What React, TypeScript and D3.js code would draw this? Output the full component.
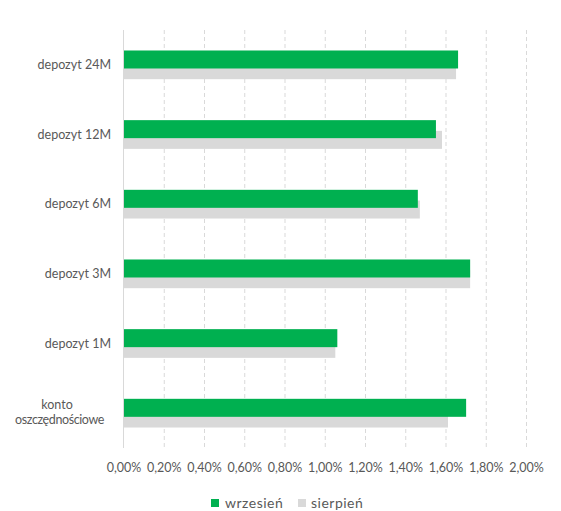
import React from "react";
import * as d3 from "d3";

const categories = ["depozyt 24M", "depozyt 12M", "depozyt 6M", "depozyt 3M", "depozyt 1M", "konto oszczędnościowe"];
const wrzesien = [1.66, 1.55, 1.46, 1.72, 1.06, 1.70];
const sierpien = [1.65, 1.58, 1.47, 1.72, 1.05, 1.61];
const ticks = [0, 0.2, 0.4, 0.6, 0.8, 1.0, 1.2, 1.4, 1.6, 1.8, 2.0];
const seriesNames = ["wrzesień", "sierpień"];

const W = 561, H = 511;
const left = 124, right = 526.5, top = 30, bottom = 448;
const GREEN = "#00b050", GRAY = "#d9d9d9", TEXT = "#595959";
const FONT = "Lato, 'Open Sans', sans-serif";

export default function App() {
  const x = d3.scaleLinear().domain([0, 2]).range([left, right]);
  const y = d3.scaleBand().domain(categories).range([top, bottom]);
  const barH = 18, offset = 10.7;
  const fmt = (v: number) => v.toFixed(2).replace(".", ",") + "%";
  return (
    <svg width={W} height={H} style={{ position: "absolute", left: 0, top: 0 }} fontFamily={FONT}>
      {ticks.slice(1).map((t) => (
        <line key={t} x1={x(t)} x2={x(t)} y1={top} y2={bottom} stroke={GRAY} strokeWidth={1} strokeDasharray="4,3" />
      ))}
      {categories.map((c, i) => {
        const cy = (y(c) as number) + y.bandwidth() / 2;
        const pairTop = cy - (barH + offset) / 2;
        return (
          <g key={c}>
            <rect x={x(0)} y={pairTop + offset} width={x(sierpien[i]) - x(0)} height={barH} fill={GRAY} />
            <rect x={x(0)} y={pairTop} width={x(wrzesien[i]) - x(0)} height={barH} fill={GREEN} />
          </g>
        );
      })}
      <line x1={left - 0.5} x2={left - 0.5} y1={top} y2={bottom} stroke={GRAY} strokeWidth={1} />
      {categories.map((c) => {
        const cy = (y(c) as number) + y.bandwidth() / 2;
        if (c === "konto oszczędnościowe") {
          return (
            <g key={c} fontSize={12.5} fill={TEXT}>
              <text x={57} y={cy - 4} textAnchor="middle">konto</text>
              <text x={104} y={cy + 11} textAnchor="end" letterSpacing={-0.4}>oszczędnościowe</text>
            </g>
          );
        }
        return (
          <text key={c} x={111} y={cy + 4} textAnchor="end" fontSize={12.5} fill={TEXT}>{c}</text>
        );
      })}
      {ticks.map((t) => (
        <text key={t} x={x(t)} y={472} textAnchor="middle" fontSize={12.5} fill={TEXT}>{fmt(t)}</text>
      ))}
      <g fontSize={14} fill={TEXT} letterSpacing={0.5}>
        <rect x={211} y={499} width={8} height={8} fill={GREEN} />
        <text x={225} y={508}>{seriesNames[0]}</text>
        <rect x={298} y={499} width={8} height={8} fill={GRAY} />
        <text x={311} y={508}>{seriesNames[1]}</text>
      </g>
    </svg>
  );
}
